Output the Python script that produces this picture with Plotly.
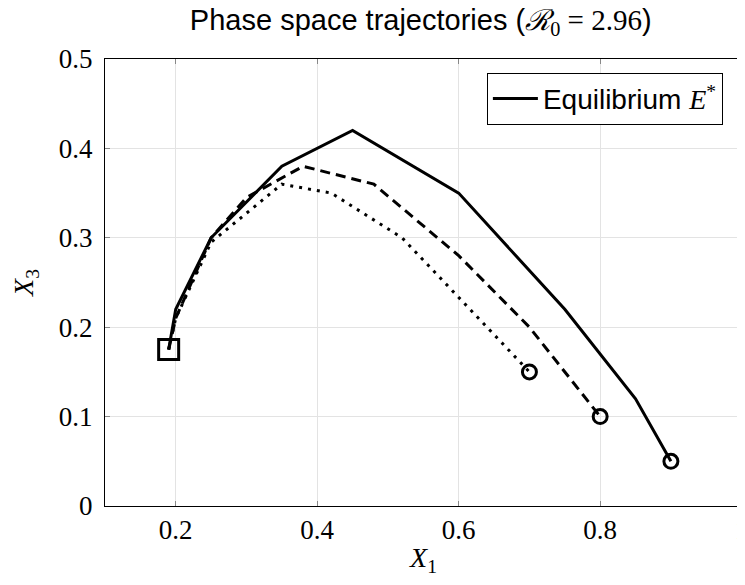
import plotly.graph_objects as go

# Trajectory data
solid_x = [0.19, 0.20, 0.25, 0.35, 0.45, 0.60, 0.75, 0.85, 0.90]
solid_y = [0.175, 0.22, 0.30, 0.38, 0.42, 0.35, 0.22, 0.12, 0.05]

dashed_x = [0.19, 0.20, 0.25, 0.30, 0.38, 0.48, 0.60, 0.70, 0.80]
dashed_y = [0.175, 0.21, 0.30, 0.345, 0.38, 0.36, 0.28, 0.20, 0.10]

dotted_x = [0.19, 0.20, 0.25, 0.35, 0.42, 0.52, 0.70]
dotted_y = [0.175, 0.21, 0.295, 0.36, 0.35, 0.30, 0.15]

eq_x = [0.19]
eq_y = [0.175]

x_ticks = [0.2, 0.4, 0.6, 0.8, 1.0]
x_tick_labels = ["0.2", "0.4", "0.6", "0.8", "1"]
y_ticks = [0, 0.1, 0.2, 0.3, 0.4, 0.5]
y_tick_labels = ["0", "0.1", "0.2", "0.3", "0.4", "0.5"]

SERIF = "Liberation Serif, DejaVu Serif, serif"
SANS = "Liberation Sans, Arial, sans-serif"

fig = go.Figure()

fig.add_trace(go.Scatter(x=dotted_x, y=dotted_y, mode="lines",
                         line=dict(color="black", width=3, dash="3px,6px"),
                         showlegend=False))
fig.add_trace(go.Scatter(x=dashed_x, y=dashed_y, mode="lines",
                         line=dict(color="black", width=3, dash="10px,6px"),
                         showlegend=False))
fig.add_trace(go.Scatter(x=solid_x, y=solid_y, mode="lines",
                         line=dict(color="black", width=3),
                         name='Equilibrium <span style="font-family:Liberation Serif"><i>E</i><sup>*</sup></span>',
                         showlegend=True))

# end-point circles
fig.add_trace(go.Scatter(x=[dotted_x[-1], dashed_x[-1], solid_x[-1]],
                         y=[dotted_y[-1], dashed_y[-1], solid_y[-1]],
                         mode="markers",
                         marker=dict(symbol="circle-open", size=14, color="black",
                                     line=dict(width=3, color="black")),
                         showlegend=False))
# equilibrium square
fig.add_trace(go.Scatter(x=eq_x, y=eq_y, mode="markers",
                         marker=dict(symbol="square-open", size=20, color="black",
                                     line=dict(width=3, color="black")),
                         showlegend=False))

axis_common = dict(
    showline=True, linecolor="black", linewidth=1, mirror="ticks",
    ticks="inside", ticklen=5, tickcolor="#888", tickwidth=1,
    showgrid=True, gridcolor="#e3e3e3", gridwidth=1,
    zeroline=False, automargin=False, ticklabeloverflow="allow",
    tickfont=dict(family=SERIF, size=27, color="black"),
)

fig.update_xaxes(range=[0.1, 1.0005], tickvals=x_ticks, ticktext=x_tick_labels,
                 ticklabelstandoff=0,
                 title=dict(text="<i>X</i><sub>1</sub>", font=dict(family=SERIF, size=28, color="black"),
                            standoff=6),
                 **axis_common)
fig.update_yaxes(range=[0, 0.5], tickvals=y_ticks, ticktext=y_tick_labels,
                 ticklabelstandoff=6,
                 title=dict(text="<i>X</i><sub>3</sub>", font=dict(family=SERIF, size=28, color="black"),
                            standoff=18),
                 **axis_common)

# the page body adds an 8px offset; size the figure so the plot lands where the reference has it
fig.update_layout(
    width=737, height=569,
    margin=dict(l=97, r=3, t=51, b=71),
    plot_bgcolor="white", paper_bgcolor="white",
    title=dict(text='Phase space trajectories (<span style="font-family:Liberation Serif"><i>ℛ</i><sub>0</sub> = 2.96</span>)',
               x=0.560, xanchor="center",
               y=1 - 12 / 569, yanchor="middle",
               font=dict(family=SANS, size=29, color="black")),
    legend=dict(x=0.970, y=0.969, xanchor="right", yanchor="top",
                bordercolor="black", borderwidth=1, bgcolor="white",
                font=dict(family=SANS, size=28, color="black"),
                itemwidth=45, tracegroupgap=0),
    font=dict(family=SANS, color="black"),
)

fig.write_html("out.html")
